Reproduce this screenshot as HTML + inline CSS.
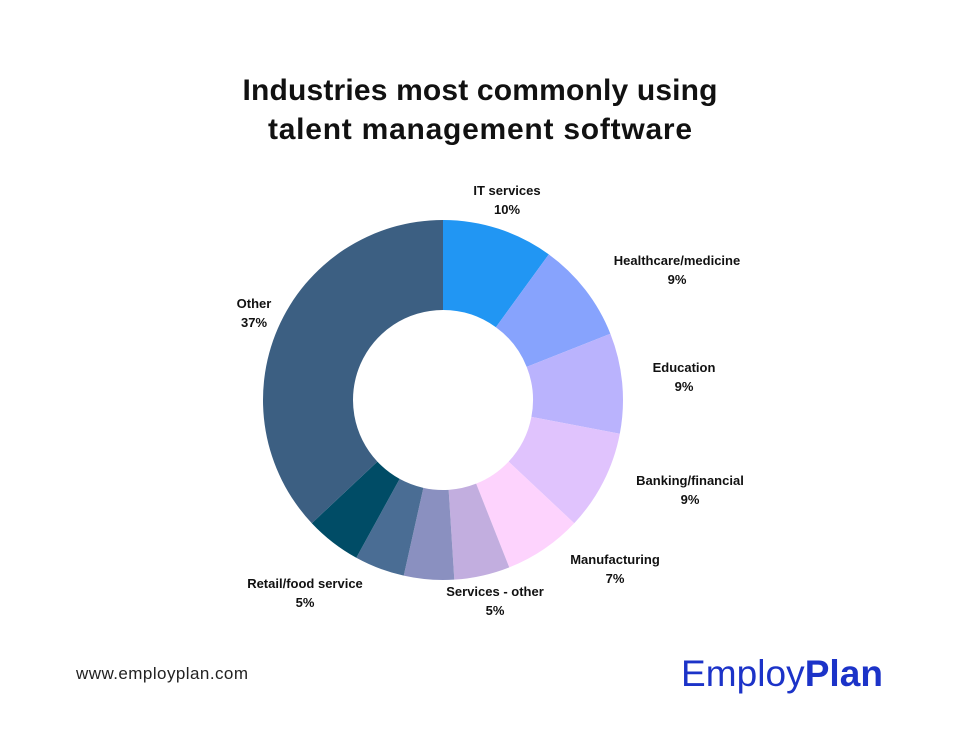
<!DOCTYPE html>
<html><head><meta charset="utf-8"><style>
body{margin:0;background:#fff;width:960px;height:750px;overflow:hidden;font-family:"Liberation Sans",sans-serif;}
svg{position:absolute;left:0;top:0}
</style></head><body>
<svg width="960" height="750" id="chart">
<text x="480" y="100" text-anchor="middle" font-size="30" font-weight="bold" fill="#111" textLength="475">Industries most commonly using</text>
<text x="480" y="139" text-anchor="middle" font-size="30" font-weight="bold" fill="#111" textLength="424">talent management software</text>
<g id="slices"></g>
<g id="labels"></g>
<text x="76" y="679" font-size="17" fill="#222" textLength="172">www.employplan.com</text>
<text x="681" y="686" font-size="37" fill="#1c33c8" textLength="202">Employ<tspan font-weight="bold">Plan</tspan></text>
</svg>
<script>
const categories=["IT services","Healthcare/medicine","Education","Banking/financial","Manufacturing","Services - other","Services - misc","Other services","Retail/food service","Other"];
const values=[10,9,9,9,7,5,4.5,4.5,5,37];
const showLabel=[true,true,true,true,true,true,false,false,true,true];
const colors=["#2196f3","#87a3fd","#bab3fd","#e0c3fd","#fdd3fd","#c2aedf","#8a90c0","#4a6d94","#004c66","#3c5f82"];
const labelPos=[[507,195,"middle"],[677,265,"middle"],[684,372,"middle"],[690,485,"middle"],[615,564,"middle"],[495,596,"middle"],null,null,[305,588,"middle"],[254,308,"middle"]];
const cx=443,cy=400,R=180,r=90;
const total=values.reduce((a,b)=>a+b,0);
const ns="http://www.w3.org/2000/svg";
const gs=document.getElementById('slices'),gl=document.getElementById('labels');
function pt(a,rad){return [cx+rad*Math.sin(a),cy-rad*Math.cos(a)];}
let acc=0;
values.forEach((v,i)=>{
 const a0=acc/total*2*Math.PI;acc+=v;const a1=acc/total*2*Math.PI;
 const large=(a1-a0)>Math.PI?1:0;
 const [x0,y0]=pt(a0,R),[x1,y1]=pt(a1,R),[x2,y2]=pt(a1,r),[x3,y3]=pt(a0,r);
 const p=document.createElementNS(ns,'path');
 p.setAttribute('d',`M${x0},${y0}A${R},${R} 0 ${large} 1 ${x1},${y1}L${x2},${y2}A${r},${r} 0 ${large} 0 ${x3},${y3}Z`);
 p.setAttribute('fill',colors[i]);
 
 
 gs.appendChild(p);
 if(showLabel[i]&&labelPos[i]){
  const [lx,ly,anc]=labelPos[i];
  [categories[i],v+'%'].forEach((s,k)=>{
   const t=document.createElementNS(ns,'text');
   t.setAttribute('x',lx);t.setAttribute('y',ly+k*19);
   t.setAttribute('text-anchor',anc);t.setAttribute('font-size','13');
   t.setAttribute('font-weight','bold');t.setAttribute('fill','#111');
   t.textContent=s;
   
   
   gl.appendChild(t);
  });
 }
});
</script>
</body></html>
